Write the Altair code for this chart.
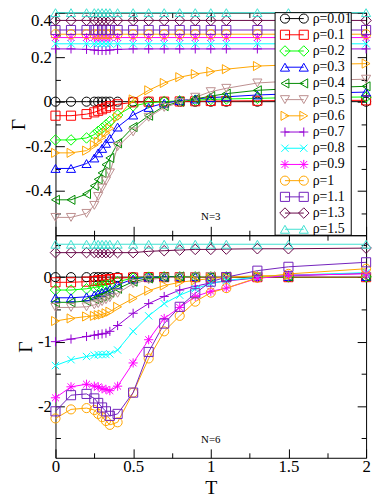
import altair as alt
import pandas as pd

# ---------------- data ----------------
T = [0, 0.1, 0.2, 0.25, 0.275, 0.3, 0.325, 0.35, 0.4, 0.5, 0.6, 0.7, 0.8, 0.9, 1.0, 1.1, 1.3, 1.5, 2.0]

rho_labels = ["ρ=0.01", "ρ=0.1", "ρ=0.2", "ρ=0.3", "ρ=0.4", "ρ=0.5", "ρ=0.6",
              "ρ=0.7", "ρ=0.8", "ρ=0.9", "ρ=1", "ρ=1.1", "ρ=1.3", "ρ=1.5"]

colors = ["#000000", "#ff0000", "#00ff00", "#0000ff", "#008b00", "#bc8f8f", "#ffa500",
          "#9400d3", "#00ffff", "#ff00ff", "#ffa500", "#7221bc", "#670748", "#40e0d0"]

PLUS = "M-1,0L1,0M0,-1L0,1"
XCROSS = "M-0.8,-0.8L0.8,0.8M-0.8,0.8L0.8,-0.8"
STAR = "M-1,0L1,0M0,-1L0,1M-0.75,-0.75L0.75,0.75M-0.75,0.75L0.75,-0.75"
DIAMOND = "M-1.15,0L0,-1.15L1.15,0L0,1.15Z"
shapes = ["circle", "square", DIAMOND, "triangle-up", "triangle-left", "triangle-down",
          "triangle-right", PLUS, XCROSS, STAR, "circle", "square", DIAMOND, "triangle-up"]

# N = 3 panel
g3_001 = [0.0] * 19
g3_01 = [-0.063, -0.063, -0.056, -0.048, -0.041, -0.034, -0.027, -0.02, -0.012, -0.003, 0.0, 0.0,
         0.001, 0.002, 0.003, 0.003, 0.004, 0.005, 0.006]
g3_02 = [-0.172, -0.172, -0.163, -0.148, -0.133, -0.119, -0.104, -0.089, -0.06, -0.019, -0.005, 0.0,
         0.004, 0.007, 0.01, 0.012, 0.015, 0.018, 0.021]
g3_03 = [-0.30, -0.30, -0.278, -0.253, -0.23, -0.21, -0.187, -0.165, -0.114, -0.06, -0.026, -0.007,
         0.005, 0.012, 0.018, 0.022, 0.03, 0.035, 0.043]
g3_04 = [-0.441, -0.441, -0.415, -0.378, -0.349, -0.32, -0.283, -0.253, -0.187, -0.114, -0.063, -0.02,
         0.0, 0.012, 0.025, 0.036, 0.051, 0.058, 0.069]
g3_05 = [-0.52, -0.52, -0.502, -0.466, -0.426, -0.388, -0.356, -0.32, -0.202, -0.136, -0.07, -0.026,
         -0.004, 0.02, 0.045, 0.06, 0.084, 0.092, 0.101]
g3_06 = [-0.23, -0.23, -0.22, -0.195, -0.18, -0.16, -0.14, -0.12, -0.07, 0.01, 0.051, 0.084,
         0.11, 0.124, 0.135, 0.146, 0.16, 0.165, 0.171]
g3_07 = [0.237, 0.237, 0.235, 0.232, 0.23, 0.23, 0.23, 0.232, 0.235, 0.237, 0.237, 0.237,
         0.237, 0.237, 0.237, 0.237, 0.237, 0.237, 0.237]
g3_08 = [0.26] * 19
g3_09 = [0.288] * 19
g3_10 = [0.303] * 19
g3_11 = [0.322] * 19
g3_13 = [0.365] * 19
g3_15 = [0.40] * 19

# N = 6 panel
g6_001 = [0.0] * 19
g6_01 = [-0.08, -0.08, -0.07, -0.06, -0.05, -0.045, -0.04, -0.03, -0.015, -0.005, 0.0, 0.0,
         0.0, 0.0, 0.0, 0.0, 0.0, 0.0, 0.0]
g6_02 = [-0.2, -0.2, -0.18, -0.16, -0.15, -0.14, -0.12, -0.11, -0.07, -0.015, 0.0, 0.005,
         0.005, 0.005, 0.005, 0.005, 0.005, 0.005, 0.005]
g6_03 = [-0.32, -0.32, -0.305, -0.28, -0.26, -0.24, -0.22, -0.19, -0.12, -0.03, 0.0, 0.005,
         0.01, 0.01, 0.01, 0.01, 0.01, 0.01, 0.01]
g6_04 = [-0.39, -0.39, -0.37, -0.34, -0.32, -0.3, -0.27, -0.24, -0.18, -0.07, -0.02, 0.0,
         0.01, 0.01, 0.01, 0.01, 0.01, 0.01, 0.01]
g6_05 = [-0.47, -0.47, -0.46, -0.43, -0.41, -0.38, -0.35, -0.32, -0.25, -0.1, -0.04, -0.01,
         0.0, 0.005, 0.01, 0.01, 0.01, 0.01, 0.01]
g6_06 = [-0.68, -0.64, -0.61, -0.6, -0.59, -0.58, -0.56, -0.535, -0.46, -0.33, -0.21, -0.13,
         -0.08, -0.05, -0.02, 0.0, 0.02, 0.03, 0.06]
g6_07 = [-1.0, -0.96, -0.92, -0.9, -0.89, -0.88, -0.87, -0.84, -0.75, -0.56, -0.41, -0.3,
         -0.2, -0.14, -0.09, -0.06, -0.01, 0.02, 0.06]
g6_08 = [-1.37, -1.28, -1.23, -1.21, -1.2, -1.2, -1.2, -1.19, -1.13, -0.84, -0.6, -0.41,
         -0.28, -0.18, -0.1, -0.05, 0.0, 0.03, 0.07]
g6_09 = [-1.87, -1.70, -1.66, -1.69, -1.70, -1.73, -1.74, -1.76, -1.69, -1.33, -0.97, -0.64,
         -0.47, -0.3, -0.22, -0.17, -0.02, 0.03, 0.05]
g6_10 = [-2.19, -2.05, -2.03, -2.06, -2.12, -2.17, -2.23, -2.29, -2.25, -1.79, -1.26, -0.84,
         -0.6, -0.38, -0.24, -0.17, -0.01, 0.05, 0.13]
g6_11 = [-2.08, -1.83, -1.81, -1.88, -1.95, -2.02, -2.08, -2.15, -2.12, -1.79, -1.16, -0.72,
         -0.46, -0.25, -0.07, 0.0, 0.1, 0.16, 0.23]
g6_13 = [0.38, 0.38, 0.38, 0.38, 0.38, 0.38, 0.38, 0.38, 0.38, 0.38, 0.40, 0.41,
         0.42, 0.43, 0.43, 0.435, 0.44, 0.44, 0.45]
g6_15 = [0.51] * 19

series3 = [g3_001, g3_01, g3_02, g3_03, g3_04, g3_05, g3_06, g3_07, g3_08, g3_09, g3_10, g3_11, g3_13, g3_15]
series6 = [g6_001, g6_01, g6_02, g6_03, g6_04, g6_05, g6_06, g6_07, g6_08, g6_09, g6_10, g6_11, g6_13, g6_15]

ann3 = {"T": [1.0], "G": [-0.52], "label": ["N=3"]}
ann6 = {"T": [1.0], "G": [-2.53], "label": ["N=6"]}

x_values = [0, 0.25, 0.5, 0.75, 1, 1.25, 1.5, 1.75, 2]
y3_values = [-0.5, -0.4, -0.3, -0.2, -0.1, 0, 0.1, 0.2, 0.3, 0.4]
y6_values = [-2.5, -2, -1.5, -1, -0.5, 0, 0.5]

W = 314
H_TOP = 225
H_BOT = 225


def long_df(series):
    rows = []
    for lab, vals in zip(rho_labels, series):
        for t, g in zip(T, vals):
            rows.append({"T": t, "G": g, "rho": lab})
    return pd.DataFrame(rows)


df3 = long_df(series3)
df6 = long_df(series6)

FONT = "Liberation Serif"
color_scale = alt.Scale(domain=rho_labels, range=colors)
shape_scale = alt.Scale(domain=rho_labels, range=shapes)
x_scale = alt.Scale(domain=[0, 2], nice=False, zero=False)


def major(step):
    return f"abs(datum.value / {step} - round(datum.value / {step})) < 0.001"


def dash(step):
    return {"condition": {"test": f"!({major(step)})", "value": [5, 40]}, "value": []}


def mk_axis(orient, values, step, **kw):
    base = dict(orient=orient, values=values, domain=False, grid=False,
                tickSize={"expr": "-9"}, tickDash=dash(step), tickColor="black",
                tickWidth=1, labels=False, title=None, minExtent=0)
    base.update(kw)
    return alt.Axis(**base)


def panel(df, ann, ydom, yvals, ystep, label_cond, bottom_labels, y_flush, title_x):
    ysc = alt.Scale(domain=ydom, nice=False, zero=False)
    if bottom_labels:
        xax = mk_axis("bottom", x_values, 0.5, labels=True,
                      labelExpr=f"({major(0.5)}) ? '' + datum.value : ''",
                      labelFlush=False, labelPadding=10, labelOverlap=False,
                      labelFontSize=17, title="T", titlePadding=3)
    else:
        xax = mk_axis("bottom", x_values, 0.5)
    yax = mk_axis("left", yvals, ystep, labels=True,
                  labelExpr=f"({major(ystep)}) && {label_cond} ? '' + datum.value : ''",
                  labelFlush=y_flush, labelPadding=13, labelOverlap=False, labelFontSize=17,
                  title="Γ", titleX=title_x, titleBaseline="alphabetic")

    color = alt.Color("rho:N", scale=color_scale, legend=None)
    lines = alt.Chart(df).mark_line(strokeWidth=1).encode(
        x=alt.X("T:Q", scale=x_scale, axis=xax),
        y=alt.Y("G:Q", scale=ysc, axis=yax),
        color=color)
    pts = alt.Chart(df).mark_point(filled=False, size=85, strokeWidth=1, opacity=1).encode(
        x=alt.X("T:Q", scale=x_scale, axis=None),
        y=alt.Y("G:Q", scale=ysc, axis=None),
        color=color,
        shape=alt.Shape("rho:N", scale=shape_scale, legend=None))
    note = alt.Chart(pd.DataFrame(ann)).mark_text(font=FONT, fontSize=11, color="black").encode(
        x=alt.X("T:Q", scale=x_scale, axis=None),
        y=alt.Y("G:Q", scale=ysc, axis=None),
        text="label:N")
    dummy = alt.Chart(df).mark_point(opacity=0).encode(
        x=alt.X("T:Q", scale=x_scale, axis=mk_axis("top", x_values, 0.5)),
        y=alt.Y("G:Q", scale=ysc, axis=mk_axis("right", yvals, ystep)))
    return alt.layer(lines, pts, note, dummy).resolve_axis(x="independent", y="independent")


top_core = panel(df3, ann3, [-0.6, 0.4], y3_values, 0.2, "datum.value > -0.5", False, True, -31)
bottom = panel(df6, ann6, [-2.8, 0.65], y6_values, 1, "true", True, False, -24).properties(
    width=W, height=H_BOT)

# legend drawn inside the top panel
leg_df = pd.DataFrame({"rho": rho_labels})
leg_y = alt.Y("rho:N", scale=alt.Scale(type="point", domain=rho_labels, range=[6, 219], padding=0),
              axis=None)
leg_color = alt.Color("rho:N", scale=color_scale, legend=None)
leg_shape = alt.Shape("rho:N", scale=shape_scale, legend=None)
box = alt.Chart(pd.DataFrame({"k": [0]})).mark_rect(fill="white", stroke="black", strokeWidth=1).encode(
    x=alt.value(222), x2=alt.value(299), y=alt.value(0), y2=alt.value(H_TOP))
leg_rule = alt.Chart(leg_df).mark_rule(strokeWidth=1).encode(
    x=alt.value(232), x2=alt.value(251), y=leg_y, color=leg_color)
leg_pa = alt.Chart(leg_df).mark_point(filled=False, size=85, strokeWidth=1, opacity=1).encode(
    x=alt.value(232), y=leg_y, color=leg_color, shape=leg_shape)
leg_pb = alt.Chart(leg_df).mark_point(filled=False, size=85, strokeWidth=1, opacity=1).encode(
    x=alt.value(251), y=leg_y, color=leg_color, shape=leg_shape)
leg_txt = alt.Chart(leg_df).mark_text(align="left", baseline="middle", font=FONT, fontSize=14,
                                      color="black").encode(x=alt.value(260), y=leg_y, text="rho:N")

top = alt.layer(top_core, box, leg_rule, leg_pa, leg_pb, leg_txt).resolve_scale(
    y="independent").properties(width=W, height=H_TOP)

chart = alt.vconcat(top, bottom, spacing=0, bounds="flush").properties(
    padding={"left": 0, "top": -5, "right": 0, "bottom": 0}
).configure_view(stroke="black", strokeWidth=1).configure_axis(
    labelFont=FONT, labelFontSize=17, labelColor="black",
    titleFont=FONT, titleFontSize=20, titleFontWeight="normal", titleColor="black"
)

chart.save("out.html", embed_options={"renderer": "svg", "actions": False})
